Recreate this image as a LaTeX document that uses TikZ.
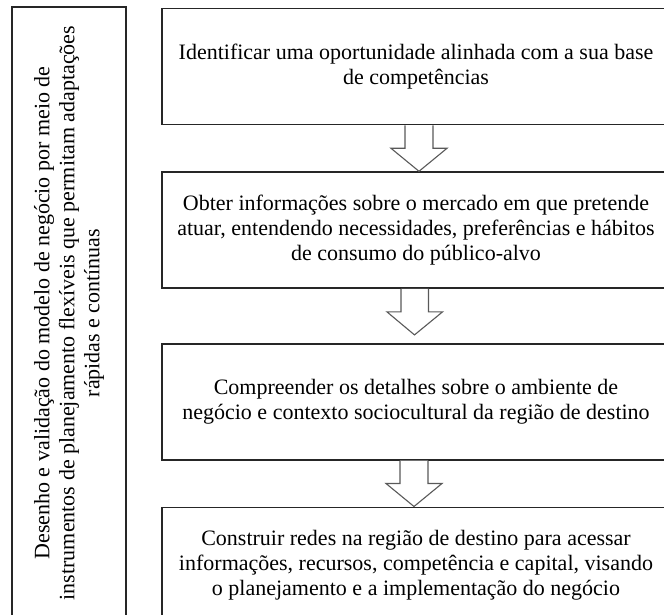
\documentclass[tikz,border=0pt]{standalone}
\usepackage{fontspec}
\setmainfont{Liberation Serif}
\usepackage{tikz}
\usetikzlibrary{positioning,calc}

\begin{document}
\begin{tikzpicture}[x=1pt, y=-1pt, node distance=46pt,
    etapa/.style={draw=black!85, line width=1.6pt, minimum width=508pt, minimum height=116pt, align=center, inner sep=0pt, font=\fontsize{22}{25}\selectfont},
    lateral/.style={draw=black!85, line width=1.6pt, rotate=90, minimum width=612pt, minimum height=114pt, align=center, inner sep=0pt, font=\fontsize{22}{25}\selectfont},
    seta/.style={draw=black!65, line width=1.1pt, fill=white, line join=miter}]

\useasboundingbox (0,0) rectangle (664,615);
\clip (0,0) rectangle (664,615);

\node[lateral] (Desenho) at (69,313) {Desenho e validação do modelo de negócio por meio de\\instrumentos de planejamento flexíveis que permitam adaptações\\rápidas e contínuas};

\node[etapa] (Identificar) at (416,66.5) {Identificar uma oportunidade alinhada com a sua base\\de competências};
\node[etapa] (Obter)       [below = of Identificar] {Obter informações sobre o mercado em que pretende\\atuar, entendendo necessidades, preferências e hábitos\\de consumo do público-alvo};
\node[etapa] (Compreender) [below = 54pt of Obter] {Compreender os detalhes sobre o ambiente de\\negócio e contexto sociocultural da região de destino};
\node[etapa] (Construir)   [below = of Compreender] {Construir redes na região de destino para acessar\\informações, recursos, competência e capital, visando\\o planejamento e a implementação do negócio};

\draw[seta] ($(Identificar.south)+(-11,0)$) -- ++(0,23) -- ++(-14,0) -- ($(Obter.north)+(3,0)$) -- ++(28,-23) -- ++(-14,0) -- ++(0,-23);
\draw[seta] ($(Obter.south)+(-15,0)$) -- ++(0,23) -- ++(-14,0) -- ($(Compreender.north)+(-1.5,-8)$) -- ++(28,-23) -- ++(-14,0) -- ++(0,-23);
\draw[seta] ($(Compreender.south)+(-16,0)$) -- ++(0,23) -- ++(-14,0) -- ($(Construir.north)+(-2,0)$) -- ++(28,-23) -- ++(-14,0) -- ++(0,-23);

\end{tikzpicture}
\end{document}
